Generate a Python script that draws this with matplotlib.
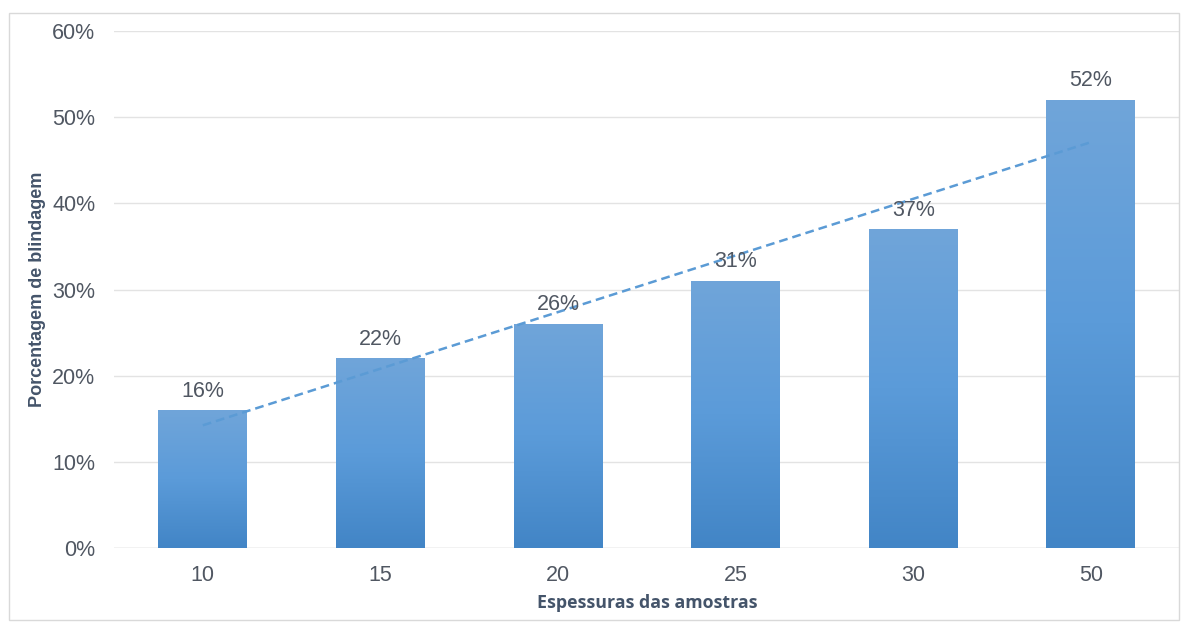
import numpy as np
import matplotlib
matplotlib.use('Agg')
import matplotlib.pyplot as plt
from matplotlib.colors import LinearSegmentedColormap
from matplotlib.patches import Rectangle

plt.rcParams['font.family'] = ['Liberation Sans', 'DejaVu Sans']

categories = ['10', '15', '20', '25', '30', '50']
values = [16, 22, 26, 31, 37, 52]
yticks = [0, 10, 20, 30, 40, 50, 60]

tick_color = '#505762'
label_color = '#44546a'

fig = plt.figure(figsize=(11.84, 6.25), dpi=100)
fig.patches.append(Rectangle((0.008, 0.008), 0.988, 0.972, transform=fig.transFigure,
                             fill=False, edgecolor='#d9d9d9', linewidth=1))
ax = fig.add_axes([0.0963, 0.1232, 0.9, 0.8272])

x = np.arange(len(categories))
bars = ax.bar(x, values, width=0.5, color='none', zorder=2)

cmap = LinearSegmentedColormap.from_list('bar', ['#4285c6', '#5b9bd9', '#70a5da'])
grad = np.linspace(0, 1, 256).reshape(-1, 1)
for b in bars:
    bx, by = b.get_x(), b.get_y()
    w, h = b.get_width(), b.get_height()
    im = ax.imshow(grad, cmap=cmap, aspect='auto', origin='lower',
                   extent=[bx, bx + w, by, by + h], zorder=2)
    im.set_clip_path(b)
    ax.text(bx + w / 2, by + h + 1.0, '%d%%' % h, ha='center', va='bottom',
            fontsize=15.5, color=tick_color, zorder=4)

# linear trendline over category index
coef = np.polyfit(x, values, 1)
ax.plot(x, np.polyval(coef, x), linestyle=(0, (3.5, 2)), color='#5b9bd5',
        linewidth=1.8, zorder=3)

ax.set_xlim(-0.5, len(categories) - 0.5)
ax.set_ylim(0, 60)
ax.set_yticks(yticks)
ax.set_yticklabels(['%d%%' % v for v in yticks])
ax.set_xticks(x)
ax.set_xticklabels(categories)
ax.tick_params(axis='both', length=0, labelsize=15.5, labelcolor=tick_color)
ax.tick_params(axis='y', pad=13.5)
ax.tick_params(axis='x', pad=12)
ax.grid(axis='y', color='#e3e3e3', linewidth=1, zorder=0)
ax.set_axisbelow(True)
for s in ax.spines.values():
    s.set_visible(False)
ax.axhline(0, color='#d9d9d9', linewidth=1, zorder=1)

ax.set_xlabel('Espessuras das amostras', fontsize=12.8, fontweight='bold',
              family=['Open Sans', 'DejaVu Sans'], color=label_color, labelpad=6)
ax.set_ylabel('Porcentagem de blindagem', fontsize=13, fontweight='bold',
              color=label_color)
ax.yaxis.set_label_coords(-0.064, 0.5)

fig.savefig('out.png', dpi=100)
